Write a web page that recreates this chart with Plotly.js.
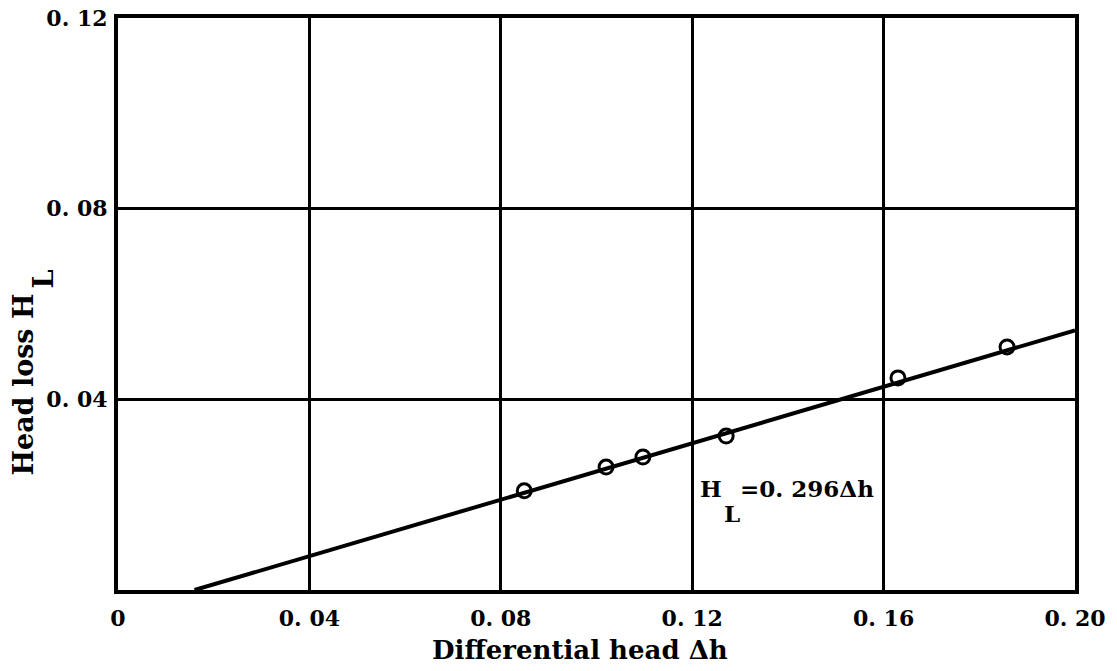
<!DOCTYPE html>
<html>
<head>
<meta charset="utf-8">
<script src="https://cdn.plot.ly/plotly-3.0.1.min.js"></script>
<style>
  html, body { margin: 0; padding: 0; background: #fff; }
  #chart { width: 1117px; height: 671px; }
</style>
</head>
<body>
<div id="chart"></div>
<script>
// Measured points: differential head vs head loss
const diffHead = [0.0849, 0.1020, 0.1097, 0.1271, 0.1630, 0.1858];
const headLoss = [0.0208, 0.0258, 0.0279, 0.0323, 0.0445, 0.0510];

// Fitted line H_L = 0.296 Δh, drawn from where it meets the x axis to the right edge
const fitSlope = 0.296;
const fitX = [0.0160, 0.2000];
const fitY = fitX.map(x => fitSlope * (x - fitX[0]));

// Axis ticks (typewritten style labels)
const xTicks = [0, 0.04, 0.08, 0.12, 0.16, 0.20];
const xTickText = ['0', '0. 04', '0. 08', '0. 12', '0. 16', '0. 20'];
const yTicks = [0.04, 0.08, 0.12];
const yTickText = ['0. 04', '0. 08', '0. 12'];

// Texts
const xTitle = 'Differential head Δh';
const yTitleMain = 'Head loss H';
const subL = 'L';
const eqMain = 'H';
const eqRest = '=0. 296Δh';

const FONT = 'DejaVu Serif, serif';
const font = (size) => ({ family: FONT, size: size, color: '#000', weight: 'bold' });

const traces = [
  {
    x: fitX, y: fitY, mode: 'lines', type: 'scatter',
    line: { color: '#000', width: 4 },
    hoverinfo: 'skip', showlegend: false
  },
  {
    x: diffHead, y: headLoss, mode: 'markers', type: 'scatter',
    marker: { symbol: 'circle-open', size: 14, color: '#000', line: { width: 3, color: '#000' } },
    showlegend: false
  }
];

// Equation label anchor (data coordinates of the "H")
const eqX = 0.1212, eqY = 0.0213;
// Vertical centre of the rotated y-axis title (data units)
const yTitleY = 0.0431;

const layout = {
  width: 1117, height: 671,
  margin: { l: 118, r: 42, t: 18, b: 81 },
  paper_bgcolor: '#fff', plot_bgcolor: '#fff',
  font: font(22),
  showlegend: false,
  xaxis: {
    range: [0, 0.2], tickmode: 'array', tickvals: xTicks, ticktext: xTickText,
    showgrid: true, gridcolor: '#000', gridwidth: 3,
    showline: true, linecolor: '#000', linewidth: 4, mirror: true,
    zeroline: false, ticks: '', ticklabelstandoff: 6,
    tickfont: font(22)
  },
  yaxis: {
    range: [0, 0.12], tickmode: 'array', tickvals: yTicks, ticktext: yTickText,
    showgrid: true, gridcolor: '#000', gridwidth: 3,
    showline: true, linecolor: '#000', linewidth: 4, mirror: true,
    zeroline: false, ticks: '', ticklabelstandoff: 2,
    tickfont: font(22)
  },
  annotations: [
    // x-axis title
    { x: 0.0966, y: 0, xref: 'x', yref: 'paper', xanchor: 'center', yanchor: 'middle',
      yshift: -60, text: xTitle, showarrow: false, font: font(26) },
    // y-axis title with full-size lowered subscript
    { x: 0, y: yTitleY, xref: 'paper', yref: 'y', xanchor: 'center', yanchor: 'middle',
      xshift: -94, textangle: -90, text: yTitleMain, showarrow: false, font: font(27) },
    { x: 0, y: yTitleY, xref: 'paper', yref: 'y', xanchor: 'center', yanchor: 'middle',
      xshift: -74, yshift: 105, textangle: -90, text: subL, showarrow: false, font: font(27) },
    // fitted-line equation
    { x: eqX, y: eqY, xref: 'x', yref: 'y', xanchor: 'left', yanchor: 'middle',
      text: eqMain, showarrow: false, font: font(23) },
    { x: eqX, y: eqY, xref: 'x', yref: 'y', xanchor: 'left', yanchor: 'middle',
      xshift: 24, yshift: -25, text: subL, showarrow: false, font: font(23) },
    { x: eqX, y: eqY, xref: 'x', yref: 'y', xanchor: 'left', yanchor: 'middle',
      xshift: 40, text: eqRest, showarrow: false, font: font(23) }
  ]
};

Plotly.newPlot('chart', traces, layout, { displayModeBar: false, staticPlot: true });
</script>
</body>
</html>
